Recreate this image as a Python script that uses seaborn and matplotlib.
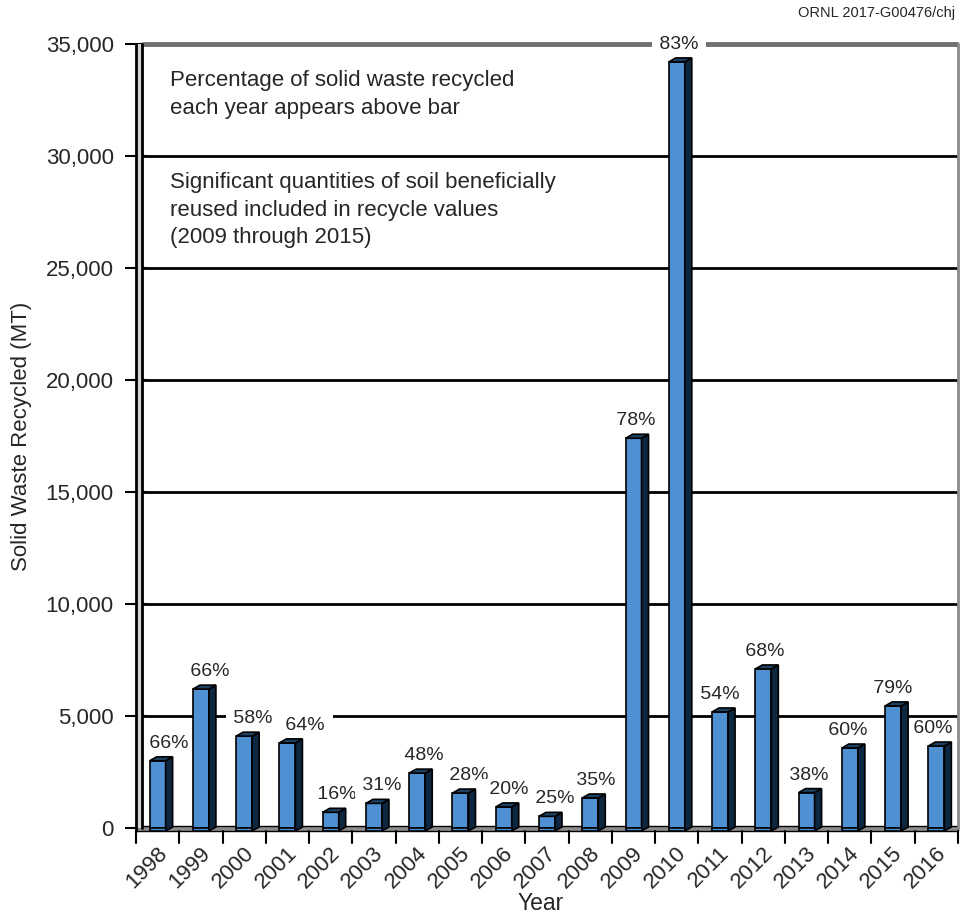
import matplotlib
matplotlib.use("Agg")
import matplotlib.pyplot as plt
import matplotlib.transforms as mtransforms
from matplotlib.patches import Polygon, Rectangle
import numpy as np
import pandas as pd
import seaborn as sns

years = ["1998", "1999", "2000", "2001", "2002", "2003", "2004", "2005", "2006", "2007",
         "2008", "2009", "2010", "2011", "2012", "2013", "2014", "2015", "2016"]
recycled_mt = [3000, 6200, 4100, 3800, 700, 1100, 2450, 1560, 940, 520,
               1340, 17400, 34200, 5180, 7100, 1580, 3570, 5450, 3660]
percent_labels = ["66%", "66%", "58%", "64%", "16%", "31%", "48%", "28%", "20%", "25%",
                  "35%", "78%", "83%", "54%", "68%", "38%", "60%", "79%", "60%"]
# horizontal nudge of each percentage label, in pixels
label_nudge_px = [11, 9, 9, 18, 6, 8, 7, 8, 5, 8, 6, 2, 2, 0, 2, 2, -2, 0, -3]
y_ticks = [0, 5000, 10000, 15000, 20000, 25000, 30000, 35000]

df = pd.DataFrame({"Year": years, "Recycled": recycled_mt})

sns.set_theme(style="white")
plt.rcParams["font.family"] = ["Liberation Sans", "DejaVu Sans"]

W, H, DPI = 961, 915, 100
fig = plt.figure(figsize=(W / DPI, H / DPI), dpi=DPI)
ax_left, ax_right, ax_top, ax_bottom = 136, 958, 44, 828
ax = fig.add_axes([ax_left / W, (H - ax_bottom) / H,
                   (ax_right - ax_left) / W, (ax_bottom - ax_top) / H])

front = "#4f90d2"
side = "#0e2740"
top_c = "#1c4163"
n = len(years)

# pixel -> data conversions for the 3-D depth
px_x = n / (ax_right - ax_left)
px_y = 35000 / (ax_bottom - ax_top)
floor_lo, floor_hi = -3 * px_y, 2 * px_y

sns.barplot(data=df, x="Year", y="Recycled", color=front, width=0.37,
            saturation=1, edgecolor="black", linewidth=1.2, ax=ax, zorder=5)

ax.set_xlim(-0.5, n - 0.5)
ax.set_ylim(0, 35000)

dx, dy = 7.0 * px_x, 4.0 * px_y
wall = -0.5 + 6 * px_x

# side and top faces of each bar
for p in list(ax.patches):
    x0, w, h = p.get_x(), p.get_width(), p.get_height()
    ax.add_patch(Polygon([(x0 + w, floor_lo), (x0 + w + dx, floor_lo + dy),
                          (x0 + w + dx, h + dy), (x0 + w, h)],
                         closed=True, facecolor=side, edgecolor="black", lw=1.2, zorder=5,
                         clip_on=False))
    ax.add_patch(Polygon([(x0, h), (x0 + dx, h + dy), (x0 + w + dx, h + dy), (x0 + w, h)],
                         closed=True, facecolor=top_c, edgecolor="black", lw=1.2, zorder=5))
    ax.add_patch(Rectangle((x0, floor_lo), w, -floor_lo, facecolor=front, edgecolor="black",
                           lw=1.2, zorder=5, clip_on=False))

# back-wall gridlines
for yv in y_ticks[1:-1]:
    ax.plot([wall, n - 0.5], [yv, yv], color="black", lw=2, zorder=1,
            solid_capstyle="butt")
ax.plot([wall, n - 0.5], [35000, 35000], color="#6f6f6f", lw=3.5, zorder=1,
        solid_capstyle="butt", clip_on=False)

# left wall (double line) and floor
ax.add_patch(Rectangle((-0.5, 0), wall + 0.5, 35000, facecolor="#d4d4d4", edgecolor="none",
                       zorder=4.6, clip_on=False))
ax.plot([wall, wall], [0, 35000], color="black", lw=2, zorder=4.7, clip_on=False)
ax.plot([-0.5, -0.5], [floor_lo, 35000], color="black", lw=2, zorder=4.7, clip_on=False)
ax.add_patch(Rectangle((-0.5, floor_lo), n, floor_hi - floor_lo, facecolor="#8c8c8c",
                       edgecolor="black", lw=1, zorder=1.5, clip_on=False))

for s in ["top", "bottom", "left"]:
    ax.spines[s].set_visible(False)
ax.spines["right"].set_color("#8a8a8a")
ax.spines["right"].set_linewidth(2)
ax.spines["right"].set_zorder(6)

# y axis
ax.set_yticks(y_ticks)
ax.set_yticklabels([f"{v:,}" for v in y_ticks], fontsize=16)
ax.tick_params(axis="y", which="major", left=True, length=16, width=1.5, color="black",
               pad=8, direction="inout")
ax.set_ylabel("Solid Waste Recycled (MT)", fontsize=16, labelpad=10)

# x axis: tick marks between categories, year labels at centres
ax.set_xticks([])
for b in np.arange(n + 1) - 0.5:
    ax.plot([b, b], [floor_lo, floor_lo - 12 * px_y], color="black", lw=1.5,
            clip_on=False, zorder=2)
lab_off = mtransforms.ScaledTranslation(-1 / DPI, -15 / DPI, fig.dpi_scale_trans)
for i, yr in enumerate(years):
    ax.text(i, 0, yr, rotation=45, ha="right", va="top", rotation_mode="anchor",
            fontsize=16, transform=ax.transData + lab_off, clip_on=False)
ax.set_xlabel("")
fig.text(541 / W, (H - 903) / H, "Year", ha="center", va="center", fontsize=16.5)

# percentage labels above bars
for i, (v, lab, nx) in enumerate(zip(recycled_mt, percent_labels, label_nudge_px)):
    ax.annotate(f" {lab} ", xy=(i, v), xytext=(nx * 72 / DPI, 13 * 72 / DPI),
                textcoords="offset points", ha="center", va="baseline", fontsize=14,
                zorder=4, annotation_clip=False,
                bbox=dict(boxstyle="square,pad=0.12", facecolor="white", edgecolor="none"))

fig.text(170 / W, (H - 70) / H, "Percentage of solid waste recycled\neach year appears above bar",
         ha="left", va="top", fontsize=16, linespacing=1.42)
fig.text(170 / W, (H - 172) / H,
         "Significant quantities of soil beneficially\nreused included in recycle values\n(2009 through 2015)",
         ha="left", va="top", fontsize=16, linespacing=1.42)
fig.text(955 / W, (H - 13) / H, "ORNL 2017-G00476/chj", ha="right", va="center", fontsize=10.5)

fig.savefig("out.png", dpi=DPI, facecolor="white")
